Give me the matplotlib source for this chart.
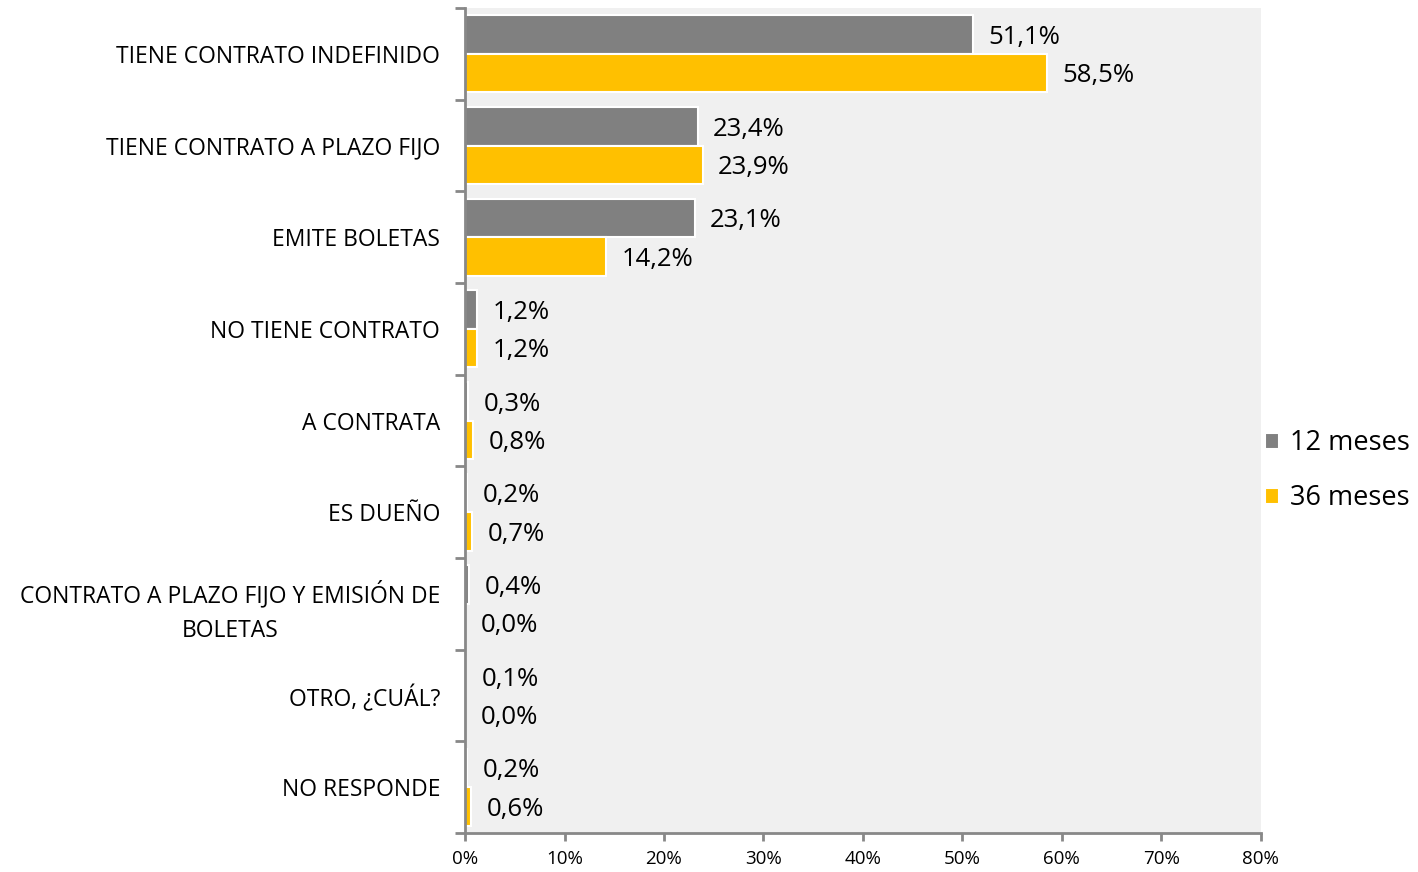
import numpy as np
import matplotlib.pyplot as plt

categorias = ["TIENE CONTRATO INDEFINIDO", "TIENE CONTRATO A PLAZO FIJO", "EMITE BOLETAS",
              "NO TIENE CONTRATO", "A CONTRATA", "ES DUEÑO",
              "CONTRATO A PLAZO FIJO Y EMISIÓN DE\nBOLETAS", "OTRO, ¿CUÁL?", "NO RESPONDE"]
meses_12 = [51.1, 23.4, 23.1, 1.2, 0.3, 0.2, 0.4, 0.1, 0.2]
meses_36 = [58.5, 23.9, 14.2, 1.2, 0.8, 0.7, 0.0, 0.0, 0.6]
series = ["12 meses", "36 meses"]
colores = ["#808080", "#FFC000"]

plt.rcParams["font.family"] = ["Open Sans", "DejaVu Sans"]

fig = plt.figure(figsize=(14.18, 8.72), dpi=100)
ax = fig.add_axes([0.328, 0.0447, 0.561, 0.946])
ax.set_facecolor("#F0F0F0")

y = np.arange(len(categorias))
h = 0.42
for i, (vals, nombre, col) in enumerate(zip([meses_12, meses_36], series, colores)):
    pos = y - h / 2 + i * h
    ax.barh(pos, vals, height=h, color=col, edgecolor="white", linewidth=1.5, label=nombre)
    for p, v in zip(pos, vals):
        ax.annotate(f"{v:.1f}%".replace(".", ","), xy=(v, p), xytext=(11, -2),
                    textcoords="offset points", va="center", ha="left", fontsize=18.5)

ax.set_xlim(0, 80)
ax.set_ylim(len(categorias) - 0.5, -0.5)
ax.set_xticks(range(0, 81, 10))
ax.set_xticklabels([f"{t}%" for t in range(0, 81, 10)], fontsize=13.5)
ax.set_yticks(y)
ax.set_yticklabels(categorias, fontsize=16.5, multialignment="center", linespacing=1.55)
ax.set_yticks(np.arange(-0.5, len(categorias), 1), minor=True)
ax.tick_params(axis="y", which="major", length=0, pad=18)
ax.tick_params(axis="y", which="minor", length=7, width=2, color="#888888")
ax.tick_params(axis="x", length=6, width=2, color="#888888", pad=6)

for s in ["top", "right"]:
    ax.spines[s].set_visible(False)
for s in ["left", "bottom"]:
    ax.spines[s].set_color("#888888")
    ax.spines[s].set_linewidth(2)

ax.legend(loc="center left", bbox_to_anchor=(1.005, 0.439), frameon=False, fontsize=19.5,
          handlelength=0.55, handleheight=0.55, handletextpad=0.4, labelspacing=1.0,
          borderaxespad=0.0, borderpad=0.0)

fig.savefig("out.png", dpi=100)
